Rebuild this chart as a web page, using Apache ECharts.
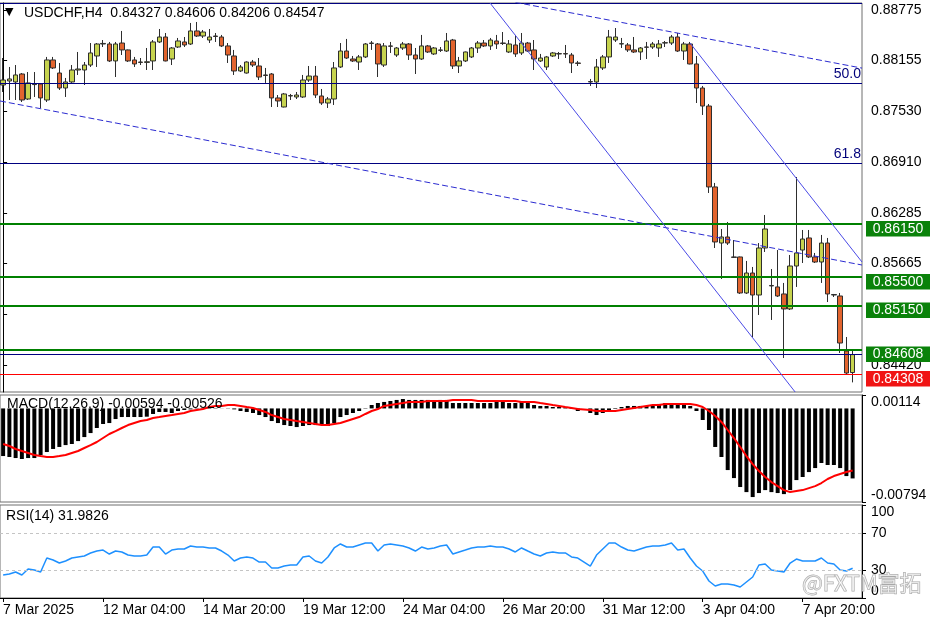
<!DOCTYPE html>
<html><head><meta charset="utf-8">
<script src="https://cdn.jsdelivr.net/npm/echarts@6/dist/echarts.min.js"></script>
<style>html,body{margin:0;padding:0;background:#fff}#c{width:936px;height:624px}</style>
</head><body><div id="c"></div>
<script>
const FONT = 'Liberation Sans';
const tickLabels = ['7 Mar 2025','12 Mar 04:00','14 Mar 20:00','19 Mar 12:00','24 Mar 04:00','26 Mar 20:00','31 Mar 12:00','3 Apr 04:00','7 Apr 20:00'];
const TICK_EVERY = 16;
const N_SLOTS = 138;
const priceTicks = [0.84420,0.85040,0.85665,0.86285,0.86910,0.87530,0.88155,0.88775];
const macdTicks = [-0.00794,0.00114];
const rsiTicks = [0,30,70,100];

const openP = [
0.87855,0.87904,0.87892,0.87990,0.87683,0.87867,0.87867,0.87671,0.88162,0.88002,
0.87818,0.87892,0.88039,0.88039,0.88100,0.88211,0.88358,0.88358,0.88150,0.88370,
0.88285,0.88162,0.88137,0.88132,0.88150,0.88383,0.88444,0.88174,0.88321,0.88383,
0.88358,0.88518,0.88456,0.88407,0.88456,0.88444,0.88334,0.88211,0.88027,0.88002,
0.88137,0.88088,0.87978,0.87990,0.87696,0.87585,0.87720,0.87708,0.87708,0.87916,
0.87965,0.87720,0.87634,0.87683,0.88076,0.88272,0.88174,0.88137,0.88199,0.88370,
0.88358,0.88100,0.88334,0.88223,0.88309,0.88358,0.88223,0.88174,0.88334,0.88236,
0.88285,0.88272,0.88407,0.88088,0.88150,0.88199,0.88309,0.88370,0.88334,0.88395,
0.88370,0.88260,0.88346,0.88248,0.88370,0.88285,0.88150,0.88076,0.88211,0.88236,
0.88240,0.88223,0.88125,'-',0.87892,0.87892,0.88064,0.88199,0.88407,0.88358,
0.88346,0.88285,0.88260,0.88321,0.88321,0.88309,0.88370,0.88370,0.88444,0.88272,
0.88358,0.88113,0.87818,0.87597,0.86604,0.85916,0.85990,0.85745,0.85745,0.85303,
0.85548,0.85278,0.85855,0.85389,0.85377,0.85291,0.85107,0.85634,0.85830,0.85978,
0.85745,0.85683,0.85916,0.85278,0.85266,0.84591,0.84327];
const closeP = [
0.87916,0.87929,0.87978,0.87671,0.87880,0.87860,0.87696,0.88162,0.88064,0.87818,
0.87892,0.88039,0.88051,0.88100,0.88248,0.88358,0.88365,0.88150,0.88358,0.88285,
0.88150,0.88113,0.88132,0.88140,0.88383,0.88444,0.88150,0.88309,0.88395,0.88346,
0.88518,0.88456,0.88505,0.88444,0.88450,0.88334,0.88223,0.88027,0.88076,0.88137,
0.88100,0.87953,0.87972,0.87696,0.87659,0.87745,0.87725,0.87732,0.87916,0.87965,
0.87732,0.87634,0.87683,0.88064,0.88272,0.88186,0.88150,0.88199,0.88358,0.88365,
0.88113,0.88334,0.88330,0.88309,0.88358,0.88223,0.88174,0.88334,0.88260,0.88309,
0.88280,0.88395,0.88088,0.88150,0.88260,0.88309,0.88370,0.88334,0.88407,0.88358,
0.88365,0.88358,0.88236,0.88370,0.88272,0.88174,0.88186,0.88199,0.88248,0.88240,
0.88236,0.88125,0.88120,'-',0.87897,0.88076,0.88199,0.88444,0.88444,0.88362,
0.88285,0.88260,0.88309,0.88318,0.88358,0.88358,0.88374,0.88444,0.88272,0.88358,
0.88113,0.87818,0.87597,0.86604,0.85929,0.85990,0.85916,0.85740,0.85303,0.85548,
0.85278,0.85855,0.86088,0.85395,0.85266,0.85107,0.85634,0.85794,0.85965,0.85745,
0.85683,0.85916,0.85291,0.85284,0.84689,0.84321,0.84547];
const highP = [
0.88186,0.88076,0.88100,0.88002,0.88014,0.88014,0.87870,0.88199,0.88199,0.88125,
0.87941,0.88100,0.88260,0.88137,0.88370,0.88370,0.88407,0.88383,0.88383,0.88518,
0.88290,0.88199,0.88186,0.88309,0.88407,0.88542,0.88493,0.88321,0.88432,0.88444,
0.88616,0.88628,0.88530,0.88542,0.88493,0.88469,0.88370,0.88285,0.88100,0.88145,
0.88162,0.88186,0.88064,0.88002,0.87732,0.87757,0.87745,0.87769,0.87978,0.88088,
0.88088,0.87806,0.87708,0.88137,0.88370,0.88420,0.88211,0.88223,0.88370,0.88395,
0.88370,0.88370,0.88383,0.88321,0.88383,0.88370,0.88309,0.88469,0.88346,0.88321,
0.88321,0.88493,0.88420,0.88199,0.88265,0.88321,0.88395,0.88407,0.88432,0.88469,
0.88505,0.88407,0.88469,0.88493,0.88383,0.88407,0.88236,0.88211,0.88260,0.88260,
0.88346,0.88248,0.88150,'-',0.87929,0.88174,0.88223,0.88530,0.88554,0.88432,
0.88370,0.88444,0.88321,0.88383,0.88383,0.88407,0.88395,0.88469,0.88493,0.88383,
0.88383,0.88211,0.87843,0.87622,0.86653,0.86088,0.86174,0.85953,0.85750,0.85696,
0.85622,0.85916,0.86260,0.85597,0.85830,0.85426,0.85769,0.86726,0.86076,0.86076,
0.85794,0.86015,0.85978,0.85291,0.85303,0.84763,0.84606];
const lowP = [
0.87769,0.87671,0.87671,0.87646,0.87671,0.87708,0.87573,0.87646,0.88051,0.87794,
0.87708,0.87880,0.87978,0.87855,0.88076,0.88076,0.88321,0.88137,0.87953,0.88223,
0.88137,0.88076,0.88100,0.88039,0.88039,0.88370,0.88145,0.88100,0.88309,0.88321,
0.88346,0.88444,0.88432,0.88370,0.88383,0.88321,0.88125,0.87978,0.88014,0.87995,
0.88076,0.87916,0.87880,0.87585,0.87585,0.87580,0.87671,0.87683,0.87696,0.87892,
0.87696,0.87610,0.87573,0.87610,0.88064,0.88174,0.88137,0.88039,0.88186,0.88285,
0.87953,0.88076,0.88248,0.88199,0.88285,0.88162,0.87990,0.88162,0.88248,0.88223,
0.88260,0.88260,0.88051,0.88002,0.88137,0.88186,0.88248,0.88321,0.88285,0.88297,
0.88346,0.88248,0.88199,0.88223,0.88260,0.88039,0.88137,0.88039,0.88199,0.88174,
0.88186,0.88002,0.88088,'-',0.87843,0.87818,0.88039,0.88125,0.88383,0.88309,
0.88260,0.88248,0.88162,0.88174,0.88297,0.88199,0.88321,0.88346,0.88260,0.88162,
0.88108,0.87634,0.87487,0.86530,0.85855,0.85475,0.85892,0.85732,0.85291,0.85291,
0.84763,0.85033,0.85806,0.84972,0.85254,0.84505,0.85094,0.85377,0.85671,0.85732,
0.85671,0.85426,0.85192,0.85254,0.84567,0.84297,0.84206];

const macdHist = [
-0.00404,-0.00412,-0.00421,-0.00429,-0.00421,-0.00421,-0.00395,-0.00370,-0.00344,-0.00327,
-0.00311,-0.00302,-0.00277,-0.00243,-0.00209,-0.00166,-0.00132,-0.00124,-0.00090,-0.00073,
-0.00073,-0.00073,-0.00073,-0.00070,-0.00047,-0.00030,-0.00030,-0.00039,-0.00022,-0.00013,
-0.00008,-0.00003,0.00002,0.00004,0.00003,0.00001,-0.00002,-0.00008,-0.00022,-0.00030,
-0.00039,-0.00056,-0.00073,-0.00107,-0.00124,-0.00141,-0.00149,-0.00158,-0.00149,-0.00141,
-0.00141,-0.00141,-0.00149,-0.00124,-0.00073,-0.00056,-0.00039,-0.00022,-0.00003,0.00029,
0.00046,0.00055,0.00063,0.00072,0.00080,0.00072,0.00072,0.00072,0.00072,0.00063,
0.00072,0.00072,0.00046,0.00046,0.00046,0.00046,0.00046,0.00046,0.00046,0.00055,
0.00055,0.00046,0.00046,0.00055,0.00046,0.00029,0.00021,0.00021,0.00012,0.00012,
0.00010,-0.00005,-0.00022,'-',-0.00039,-0.00056,-0.00039,-0.00022,-0.00005,0.00012,
0.00021,0.00021,0.00021,0.00021,0.00029,0.00038,0.00046,0.00046,0.00046,0.00038,
0.00021,-0.00022,-0.00098,-0.00183,-0.00327,-0.00412,-0.00523,-0.00591,-0.00667,-0.00710,
-0.00752,-0.00718,-0.00693,-0.00710,-0.00718,-0.00727,-0.00693,-0.00608,-0.00582,-0.00540,
-0.00506,-0.00463,-0.00480,-0.00480,-0.00506,-0.00574,-0.00594];
const macdSignal = [
-0.00302,-0.00319,-0.00344,-0.00361,-0.00378,-0.00395,-0.00404,-0.00412,-0.00412,-0.00404,
-0.00395,-0.00378,-0.00361,-0.00336,-0.00311,-0.00285,-0.00251,-0.00217,-0.00192,-0.00166,
-0.00141,-0.00124,-0.00107,-0.00098,-0.00081,-0.00073,-0.00064,-0.00056,-0.00047,-0.00039,
-0.00022,-0.00013,-0.00005,0.00012,0.00021,0.00021,0.00029,0.00029,0.00021,0.00012,
0.00004,-0.00013,-0.00030,-0.00056,-0.00073,-0.00090,-0.00098,-0.00107,-0.00115,-0.00124,
-0.00132,-0.00141,-0.00141,-0.00132,-0.00124,-0.00107,-0.00090,-0.00073,-0.00047,-0.00022,
-0.00005,0.00021,0.00029,0.00038,0.00046,0.00055,0.00055,0.00055,0.00063,0.00063,
0.00063,0.00063,0.00072,0.00072,0.00072,0.00072,0.00063,0.00063,0.00063,0.00063,
0.00063,0.00063,0.00063,0.00055,0.00055,0.00055,0.00046,0.00038,0.00029,0.00021,
0.00012,0.00004,-0.00005,'-',-0.00013,-0.00022,-0.00022,-0.00022,-0.00022,-0.00013,
-0.00005,0.00004,0.00012,0.00021,0.00029,0.00029,0.00038,0.00038,0.00038,0.00038,
0.00038,0.00029,0.00012,-0.00022,-0.00064,-0.00115,-0.00183,-0.00251,-0.00327,-0.00404,
-0.00472,-0.00531,-0.00582,-0.00625,-0.00659,-0.00693,-0.00710,-0.00701,-0.00693,-0.00676,
-0.00659,-0.00633,-0.00599,-0.00574,-0.00557,-0.00540,-0.00526];
const rsi = [
24.7,25.8,28.0,24.7,31.2,30.1,28.0,43.0,40.9,37.6,
39.8,43.0,44.1,45.2,48.4,50.5,51.6,47.3,50.5,49.5,
46.2,45.2,45.2,46.2,54.8,54.8,47.3,51.6,52.7,52.7,
55.9,54.8,54.8,53.8,53.8,50.5,46.2,39.8,43.0,44.1,
43.0,38.7,38.7,32.3,32.3,34.4,35.5,35.5,44.1,45.2,
39.8,37.6,44.1,53.8,58.1,54.8,54.8,57.0,59.1,59.1,
50.5,57.0,58.1,57.0,55.9,53.8,50.5,54.8,52.7,53.8,
55.9,57.0,47.3,49.5,51.6,53.8,54.8,54.8,55.9,54.8,
54.8,52.7,49.5,53.8,50.5,47.3,45.2,48.4,49.5,48.4,
48.4,44.1,43.0,'-',34.4,46.2,52.7,59.1,59.1,54.8,
51.6,50.5,52.7,54.8,55.9,55.9,57.0,59.1,51.6,52.7,
43.0,34.4,29.0,18.3,12.9,15.1,15.1,14.0,11.8,17.2,
22.6,35.5,36.6,30.1,29.0,28.0,37.6,41.9,39.8,39.8,
39.8,43.0,37.6,36.6,30.1,29.0,31.98];

// horizontal levels (price)
const fibLevels = [0.88858, 0.87880, 0.86898];
const fibNames = ['', '50.0', '61.8'];
const greenLevels = [0.86150, 0.85500, 0.85150, 0.84608];
const redLevels = [0.84308];
const bidLevel = 0.84547;
// trend lines: anchors as [bar position, price]
const upperDashed = [[82, 0.88870], [137.5, 0.88062]];
const lowerDashed = [[-0.5, 0.87659], [137.5, 0.85646]];
const channelA = [[77.95, 0.88861], [126.8, 0.84088]];
const channelB = [[109.97, 0.88370], [137.5, 0.85683]];

const categories = Array.from({length: N_SLOTS}, (_, i) => String(i));
const candleData = openP.map((o, i) => o === '-' ? '-' : [o, closeP[i], lowP[i], highP[i]]);
const isTick = (idx) => idx % TICK_EVERY === 0 && (idx / TICK_EVERY) < tickLabels.length;

const grids = [
  {left: 0, top: 3, width: 862, height: 389},
  {left: 0, top: 395, width: 862, height: 107},
  {left: 0, top: 505, width: 862, height: 93}
].map(g => Object.assign(g, {show: true, borderColor: '#6e6e6e', borderWidth: 1, backgroundColor: '#fff'}));

function catAxis(gi, showLabels) {
  return {
    type: 'category', gridIndex: gi, data: categories, boundaryGap: true,
    axisLine: {show: showLabels, lineStyle: {color: '#000'}},
    axisTick: {show: showLabels, alignWithLabel: true, interval: (i) => isTick(i), length: 4, lineStyle: {color: '#000'}},
    axisLabel: {show: showLabels, interval: (i) => isTick(i), formatter: (v, i) => tickLabels[i / TICK_EVERY],
      align: 'left', margin: 5, color: '#000', fontSize: 14, fontFamily: FONT},
    splitLine: {show: false}
  };
}
function valAxis(gi, min, max, ticks, fmt, edgeAlign) {
  const lbl = {customValues: ticks, formatter: fmt, color: '#000', fontSize: 14, fontFamily: FONT, margin: 9};
  if (edgeAlign) { lbl.verticalAlignMaxLabel = 'top'; lbl.verticalAlignMinLabel = 'bottom'; }
  return {
    type: 'value', gridIndex: gi, position: 'right', min, max, scale: true,
    axisLine: {show: true, lineStyle: {color: '#000'}},
    axisTick: {show: true, customValues: ticks, length: 4, lineStyle: {color: '#000'}},
    axisLabel: lbl,
    splitLine: {show: false}
  };
}

const markLineData = [];
fibLevels.forEach((v, k) => markLineData.push({yAxis: v, lineStyle: {color: '#000080', width: 1, type: 'solid'},
  label: {show: !!fibNames[k], position: 'insideEndTop', formatter: fibNames[k], color: '#00007a', fontSize: 14, fontFamily: FONT, distance: [1, 2]}}));
greenLevels.forEach(v => markLineData.push({yAxis: v, lineStyle: {color: '#008000', width: 2, type: 'solid'}, label: {show: false}}));
redLevels.forEach(v => markLineData.push({yAxis: v, lineStyle: {color: '#ff0000', width: 1, type: 'solid'}, label: {show: false}}));
markLineData.push({yAxis: bidLevel, lineStyle: {color: '#000080', width: 1, type: 'solid'}, label: {show: false}});

function trend(data, dashed, color, extra) {
  return Object.assign({type: 'line', xAxisIndex: 3, yAxisIndex: 0, data, symbol: 'none', silent: true, clip: true,
    lineStyle: {color, width: 1, type: dashed ? [6, 3] : 'solid'}, z: 5}, extra || {});
}

const chart = echarts.init(document.getElementById('c'), null, {renderer: 'canvas'});
chart.setOption({
  animation: false,
  backgroundColor: '#fff',
  grid: grids,
  xAxis: [catAxis(0, false), catAxis(1, false), catAxis(2, true),
    {type: 'value', gridIndex: 0, min: -0.5, max: N_SLOTS - 0.5, show: false}],
  yAxis: [
    valAxis(0, 0.84088, 0.88861, priceTicks, v => v.toFixed(5), false),
    valAxis(1, -0.00794, 0.00114, macdTicks, v => v.toFixed(5), true),
    valAxis(2, 0, 100, rsiTicks, v => String(v), true)
  ],
  series: [
    {type: 'candlestick', xAxisIndex: 0, yAxisIndex: 0, data: candleData, barWidth: 5,
      itemStyle: {color: '#c6d34e', color0: '#e2642e', borderColor: '#2e2e2e', borderColor0: '#2e2e2e', borderWidth: 1}, z: 4},
    trend(upperDashed, true, '#2b2bd0', {
      markLine: {symbol: ['none', 'none'], precision: 5, silent: true, animation: false, data: markLineData}}),
    trend(lowerDashed, true, '#2b2bd0'),
    trend(channelA, false, '#4a4ae6'),
    trend(channelB, false, '#4a4ae6'),
    {type: 'bar', xAxisIndex: 1, yAxisIndex: 1, data: macdHist, barWidth: 4, itemStyle: {color: '#000'}, silent: true},
    {type: 'line', xAxisIndex: 1, yAxisIndex: 1, data: macdSignal, symbol: 'none', connectNulls: true,
      lineStyle: {color: '#ff0000', width: 2}, silent: true},
    {type: 'line', xAxisIndex: 2, yAxisIndex: 2, data: rsi, symbol: 'none', connectNulls: true,
      lineStyle: {color: '#1e90ff', width: 1.5}, silent: true,
      markLine: {symbol: ['none', 'none'], silent: true, label: {show: false},
        lineStyle: {color: '#c4c4c4', type: [3, 3], width: 1}, data: [{yAxis: 70}, {yAxis: 30}]}}
  ]
});

// price tags on right axis, placed through the price scale
const tagDefs = greenLevels.map(v => ({v, fill: '#0a820a'})).concat(redLevels.map(v => ({v, fill: '#f01414'})));
const graphics = [];
tagDefs.forEach(t => {
  const y = chart.convertToPixel({yAxisIndex: 0}, t.v);
  graphics.push({type: 'rect', shape: {x: 866, y: y - 3, width: 64, height: 15.5}, style: {fill: t.fill}, z: 100});
  graphics.push({type: 'text', x: 898, y: y + 5, style: {text: t.v.toFixed(5), fill: '#fff', font: '14px ' + FONT, align: 'center', verticalAlign: 'middle'}, z: 101});
});
const txt = (s, x, y, extra) => Object.assign({type: 'text', x, y, style: Object.assign({text: s, fill: '#000', font: '14px ' + FONT, verticalAlign: 'middle'}, extra || {}), z: 100});
graphics.push(txt('\u25BC', 5, 12, {font: '11px DejaVu Sans'}));
graphics.push(txt('USDCHF,H4  0.84327 0.84606 0.84206 0.84547', 24, 13));
graphics.push(txt('MACD(12,26,9) -0.00594 -0.00526', 7, 404));
graphics.push(txt('RSI(14) 31.9826', 6, 516));
graphics.push(txt('@FXTM富拓', 802, 583, {font: '22px "Noto Sans CJK SC"', fill: 'rgba(255,255,255,0.5)', stroke: '#a8a8a8', lineWidth: 1}));
chart.setOption({graphic: graphics});
</script></body></html>
